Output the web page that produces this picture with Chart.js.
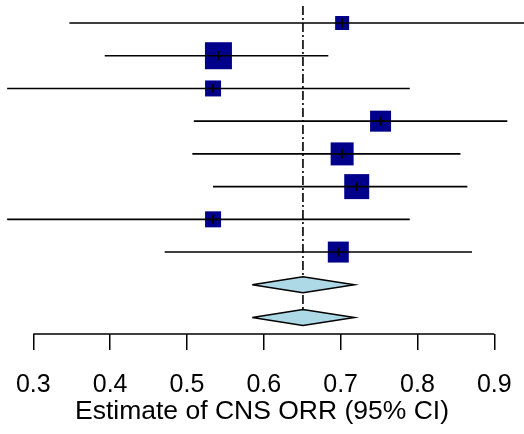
<!DOCTYPE html>
<html><head><meta charset="utf-8">
<script src="https://cdn.jsdelivr.net/npm/chart.js@4"></script>
<style>html,body{margin:0;padding:0;background:#fff;}#wrap{width:524px;height:434px;}</style>
</head><body><div id="wrap"><canvas id="c"></canvas></div>
<script>
// ---- data ----
const rows = [1, 2, 3, 4, 5, 6, 7, 8];
const estimates = [0.702, 0.541, 0.534, 0.752, 0.702, 0.721, 0.534, 0.697];
const lower = [0.347, 0.393, 0.266, 0.509, 0.507, 0.534, 0.266, 0.471];
const upper = [0.970, 0.684, 0.790, 0.917, 0.856, 0.865, 0.790, 0.871];
const weights = [14, 27, 16, 21, 23, 25, 16, 21]; // relative study weights (box size)
const summaryRows = [9, 10];
const summaryEst = [0.651, 0.651];
const summaryLower = [0.585, 0.585];
const summaryUpper = [0.718, 0.718];
const refValue = 0.651;
const tickValues = [0.3, 0.4, 0.5, 0.6, 0.7, 0.8, 0.9];
const xTitle = 'Estimate of CNS ORR (95% CI)';

// ---- build datasets ----
const FONT = '"Liberation Sans", Arial, Helvetica, sans-serif';
const ciData = [];
rows.forEach((r, i) => {
  ciData.push({x: lower[i], y: r}, {x: upper[i], y: r}, {x: null, y: null});
});
const boxData = rows.map((r, i) => ({x: estimates[i], y: r}));
const boxRadius = weights.map(w => w / Math.SQRT2);
const DH = 0.245; // diamond half height in row units
const diamondSets = summaryRows.map((r, i) => ({
  data: [
    {x: summaryLower[i], y: r}, {x: summaryEst[i], y: r - DH},
    {x: summaryUpper[i], y: r}, {x: summaryEst[i], y: r + DH},
    {x: summaryLower[i], y: r}
  ],
  showLine: true, fill: 'shape', backgroundColor: '#ADD8E6',
  borderColor: '#000', borderWidth: 1.5, pointRadius: 0, order: 1
}));

const axisLine = {
  id: 'axisLine',
  afterDraw(chart) {
    const xs = chart.scales.x, ctx = chart.ctx;
    const y = chart.chartArea.bottom;
    ctx.save();
    ctx.strokeStyle = '#000';
    ctx.lineWidth = 1.5;
    ctx.beginPath();
    ctx.moveTo(xs.getPixelForValue(tickValues[0]), y);
    ctx.lineTo(xs.getPixelForValue(tickValues[tickValues.length - 1]), y);
    ctx.stroke();
    ctx.restore();
  }
};

const zeroPad = s => { s.paddingLeft = 0; s.paddingRight = 0; s.paddingTop = 0; s.paddingBottom = 0; };

new Chart(document.getElementById('c'), {
  type: 'scatter',
  data: {
    datasets: [
      { // reference line
        data: [{x: refValue, y: 0.48}, {x: refValue, y: 10.26}],
        showLine: true, borderColor: '#000', borderWidth: 1.6,
        borderDash: [9, 3, 2, 3], pointRadius: 0, order: 5
      },
      { // study boxes
        data: boxData, pointStyle: 'rect', pointRadius: boxRadius,
        backgroundColor: '#00008B', borderColor: '#00008B', borderWidth: 0,
        order: 3
      },
      { // confidence intervals (drawn over the boxes)
        data: ciData, showLine: true, spanGaps: false,
        borderColor: '#000', borderWidth: 1.6, pointRadius: 0, order: 2
      },
      { // estimate tick marks
        data: boxData, pointStyle: 'line', pointRotation: 90, pointRadius: 4.5,
        borderColor: '#000', borderWidth: 2, order: 0
      },
      ...diamondSets
    ]
  },
  options: {
    responsive: true, maintainAspectRatio: false, animation: false,
    layout: {padding: 0, autoPadding: false},
    plugins: {legend: {display: false}, tooltip: {enabled: false}},
    scales: {
      x: {
        type: 'linear', min: 0.2567, max: 0.9387,
        afterBuildTicks: s => { s.ticks = tickValues.map(v => ({value: v})); },
        afterFit: s => { s.height = 100; zeroPad(s); },
        grid: {drawOnChartArea: false, drawTicks: true, tickLength: 16, color: '#000', lineWidth: 1.5},
        border: {display: false},
        ticks: {color: '#000', font: {family: FONT, size: 25}, padding: 20, maxRotation: 0,
                callback: v => v.toFixed(1)},
        title: {display: true, text: xTitle, color: '#000', font: {family: FONT, size: 26.5},
                padding: {top: 0, bottom: 6}}
      },
      y: {type: 'linear', min: 0.297, max: 10.504, reverse: true, display: false}
    }
  },
  plugins: [axisLine]
});
</script>
</body></html>
